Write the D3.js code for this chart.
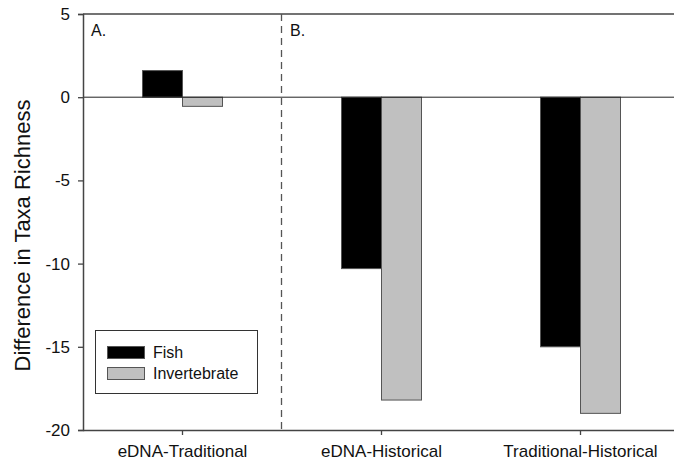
<!DOCTYPE html>
<html><head><meta charset="utf-8">
<script src="https://cdn.jsdelivr.net/npm/d3@7"></script>
<style>
body{margin:0;background:#fff;}
text{font-family:"Liberation Sans",Arial,sans-serif;fill:#111;}
</style></head>
<body><svg id="c" width="674" height="461"></svg>
<script>
const categories = ["eDNA-Traditional", "eDNA-Historical", "Traditional-Historical"];
const seriesNames = ["Fish", "Invertebrate"];
const fishValues = [1.6, -10.3, -15.0];
const invertebrateValues = [-0.55, -18.2, -19.0];
const yTicks = [5, 0, -5, -10, -15, -20];
const panelLabels = ["A.", "B."];
const colors = {"Fish": "#000000", "Invertebrate": "#c0c0c0"};

const svg = d3.select("#c");
const m = {l: 83, t: 14, r: 680, b: 430};

const x = d3.scaleBand().domain(categories).range([m.l, m.l + 3 * 199]).padding(0);
const y = d3.scaleLinear().domain([-20, 5]).range([m.b, m.t]);
const bw = 40;
const xs = d3.scaleBand().domain(seriesNames).range([-bw, bw]);

svg.append("line").attr("x1", m.l).attr("x2", 674).attr("y1", y(5)).attr("y2", y(5)).attr("stroke", "#444").attr("stroke-width", 1.3);

const data = [];
categories.forEach((c, i) => {
  data.push({c, s: "Fish", v: fishValues[i]});
  data.push({c, s: "Invertebrate", v: invertebrateValues[i]});
});

svg.append("g").selectAll("rect").data(data).enter().append("rect")
  .attr("x", d => x(d.c) + x.bandwidth() / 2 + xs(d.s))
  .attr("width", xs.bandwidth())
  .attr("y", d => Math.min(y(d.v), y(0)))
  .attr("height", d => Math.abs(y(d.v) - y(0)))
  .attr("fill", d => colors[d.s])
  .attr("stroke", "#555").attr("stroke-width", 1);

svg.append("line").attr("x1", m.l).attr("x2", 674).attr("y1", y(0)).attr("y2", y(0)).attr("stroke", "#222").attr("stroke-width", 1);

const divX = x(categories[1]);
svg.append("line").attr("x1", divX - 0.5).attr("x2", divX - 0.5).attr("y1", y(5)).attr("y2", y(-20))
  .attr("stroke", "#555").attr("stroke-width", 1.3).attr("stroke-dasharray", "7,5");

const ya = d3.axisLeft(y).tickValues(yTicks).tickSize(5).tickPadding(8).tickFormat(d => String(d));
const yg = svg.append("g").attr("transform", `translate(${m.l},0)`).call(ya);
yg.select(".domain").attr("stroke", "#444").attr("stroke-width", 1.5);
yg.selectAll(".tick line").attr("stroke", "#444").attr("stroke-width", 1.3);
yg.selectAll("text").attr("font-size", 17).style("font-family", "Liberation Sans, Arial, sans-serif").attr("fill", "#111");

const xa = d3.axisBottom(x).tickSize(5).tickPadding(10).tickSizeOuter(0);
const xg = svg.append("g").attr("transform", `translate(0,${m.b})`).call(xa);
xg.select(".domain").attr("stroke", "#444").attr("stroke-width", 1.5).attr("d", `M${m.l},0.5H674`);
xg.selectAll(".tick line").attr("stroke", "#444").attr("stroke-width", 1.3);
xg.selectAll("text").attr("font-size", 17).style("font-family", "Liberation Sans, Arial, sans-serif").attr("fill", "#111");

svg.append("text").attr("transform", `translate(30,235.5) rotate(-90)`)
  .attr("text-anchor", "middle").attr("font-size", 22).text("Difference in Taxa Richness");

svg.append("text").attr("x", 91).attr("y", 36).attr("font-size", 16).text(panelLabels[0]);
svg.append("text").attr("x", divX + 8).attr("y", 36).attr("font-size", 16).text(panelLabels[1]);

const lg = svg.append("g");
lg.append("rect").attr("x", 95.5).attr("y", 330.5).attr("width", 162).attr("height", 63).attr("fill", "#fff").attr("stroke", "#333").attr("stroke-width", 1);
seriesNames.forEach((s, i) => {
  lg.append("rect").attr("x", 107.5).attr("y", 346.5 + i * 21).attr("width", 37).attr("height", 12)
    .attr("fill", colors[s]).attr("stroke", "#555").attr("stroke-width", 1);
  lg.append("text").attr("x", 153).attr("y", 358 + i * 20.5).attr("font-size", 16).text(s);
});
</script></body></html>
